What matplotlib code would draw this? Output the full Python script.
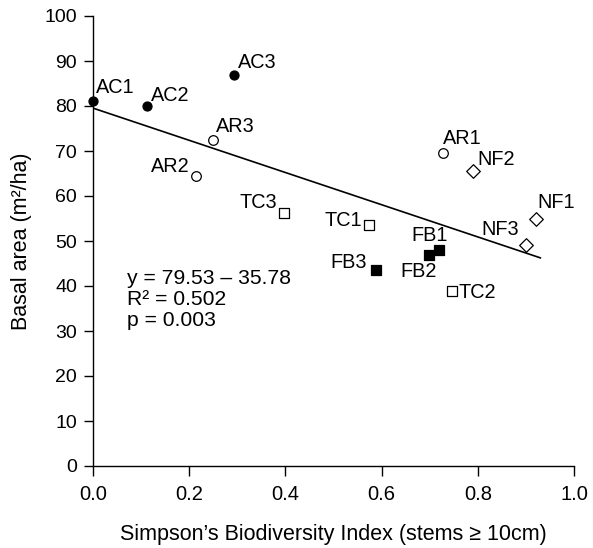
import matplotlib
matplotlib.use('Agg')
import matplotlib.pyplot as plt
import numpy as np

plt.rcParams['font.family'] = ['Liberation Sans', 'DejaVu Sans']
plt.rcParams['font.size'] = 14

# site data
ac_names = ['AC1', 'AC2', 'AC3']
ac_x = [0.0, 0.113, 0.294]
ac_y = [81.2, 80.0, 86.8]

ar_names = ['AR1', 'AR2', 'AR3']
ar_x = [0.727, 0.215, 0.25]
ar_y = [69.6, 64.4, 72.4]

tc_names = ['TC1', 'TC2', 'TC3']
tc_x = [0.574, 0.746, 0.398]
tc_y = [53.6, 39.0, 56.2]

fb_names = ['FB1', 'FB2', 'FB3']
fb_x = [0.719, 0.698, 0.589]
fb_y = [48.0, 46.9, 43.6]

nf_names = ['NF1', 'NF2', 'NF3']
nf_x = [0.921, 0.789, 0.901]
nf_y = [55.0, 65.5, 49.2]

intercept = 79.53
slope = -35.78
line_x = np.array([0.0, 0.93])

stats_lines = ['y = 79.53 – 35.78', 'R² = 0.502', 'p = 0.003']

# label offsets in pixels from the marker (dx, dy up, ha); text anchored on its baseline
px = 72 / 100
offsets = {
    'AC1': (3, 8, 'left'), 'AC2': (4, 5, 'left'), 'AC3': (4, 7, 'left'),
    'AR1': (0, 9, 'left'), 'AR2': (-7, 4, 'right'), 'AR3': (3, 8, 'left'),
    'TC1': (-7, -1, 'right'), 'TC2': (7, -7, 'left'), 'TC3': (-7, 5, 'right'),
    'FB1': (9, 9, 'right'), 'FB2': (8, -22, 'right'), 'FB3': (-9, 2, 'right'),
    'NF1': (1, 11, 'left'), 'NF2': (5, 6, 'left'), 'NF3': (-7, 10, 'right'),
}

fig = plt.figure(figsize=(5.93, 5.48), dpi=100)
ax = fig.add_axes([93 / 593, 1 - 466 / 548, 481 / 593, 450 / 548])

ax.plot(line_x, intercept + slope * line_x, color='black', lw=1.2, zorder=1)

groups = [
    (ac_names, ac_x, ac_y, dict(marker='o', s=42, facecolor='black', edgecolor='black')),
    (ar_names, ar_x, ar_y, dict(marker='o', s=48, facecolor='white', edgecolor='black')),
    (tc_names, tc_x, tc_y, dict(marker='s', s=48, facecolor='white', edgecolor='black')),
    (fb_names, fb_x, fb_y, dict(marker='s', s=55, facecolor='black', edgecolor='black')),
    (nf_names, nf_x, nf_y, dict(marker='D', s=48, facecolor='white', edgecolor='black')),
]
for names, xs, ys, style in groups:
    ax.scatter(xs, ys, linewidths=0.9, clip_on=False, zorder=3, **style)
    for n, x, y in zip(names, xs, ys):
        dx, dy, ha = offsets[n]
        ax.annotate(n, (x, y), xytext=(dx * px, dy * px), textcoords='offset points',
                    ha=ha, va='baseline', fontsize=14.3)

for i, line in enumerate(stats_lines):
    ax.annotate(line, (0.071, 40.35), xytext=(0, -21 * i * px), textcoords='offset points',
                ha='left', va='baseline', fontsize=15.2)

ax.set_xlim(0, 1)
ax.set_ylim(0, 100)
ax.set_xticks(np.arange(0, 1.01, 0.2))
ax.set_xticklabels([f'{v:.1f}' for v in np.arange(0, 1.01, 0.2)])
ax.set_yticks(np.arange(0, 101, 10))
for s in ['top', 'right']:
    ax.spines[s].set_visible(False)
for s in ['left', 'bottom']:
    ax.spines[s].set_linewidth(1.0)
ax.tick_params(axis='x', direction='out', length=7.2, width=1.0, labelsize=14.5, pad=6.5)
ax.tick_params(axis='y', direction='out', length=6.5, width=1.0, labelsize=14, pad=5)

ax.set_xlabel('Simpson’s Biodiversity Index (stems ≥ 10cm)', fontsize=15.5)
ax.xaxis.label.set_va('baseline')
ax.xaxis.set_label_coords(0.5, -74 / 450)
ax.set_ylabel('Basal area (m²/ha)', fontsize=15.5)
ax.yaxis.label.set_va('center')
ax.yaxis.set_label_coords(-71 / 481, 0.5)

fig.savefig('out.png', dpi=100)
